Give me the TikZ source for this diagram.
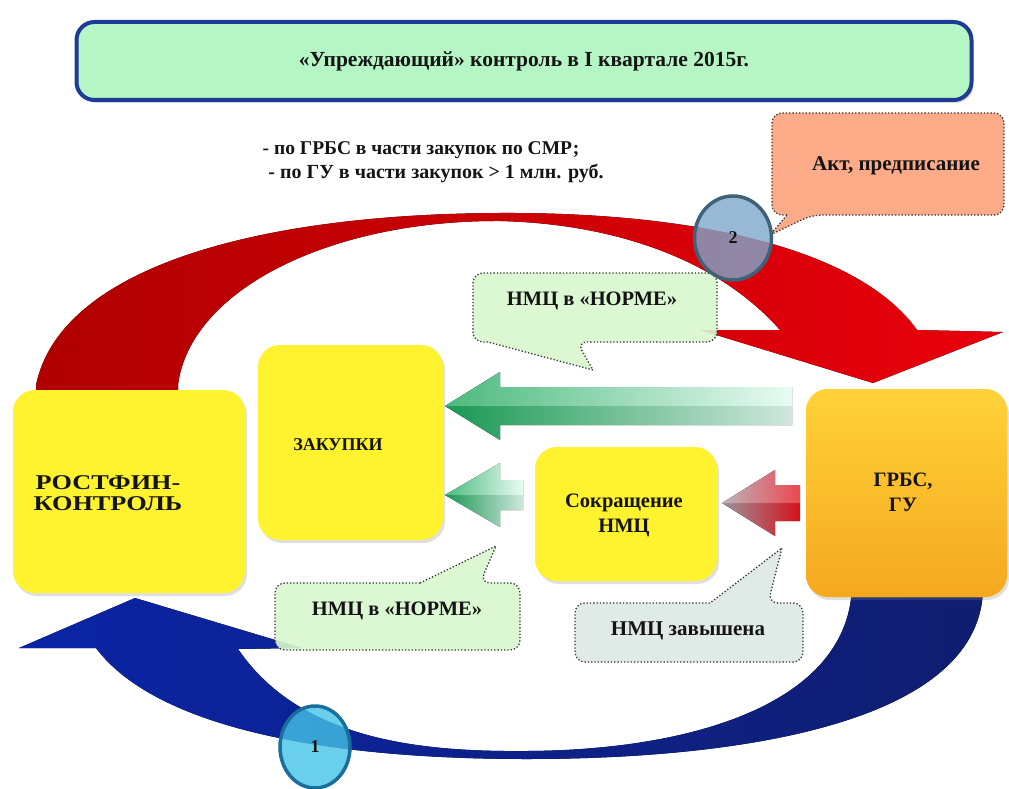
\documentclass[tikz,border=0pt]{standalone}
\usepackage{fontspec}
\setmainfont{Liberation Serif}
\newfontfamily\widefont[FakeStretch=1.25]{Liberation Serif}
\usetikzlibrary{shadows,shapes.geometric}
\definecolor{titlefill}{HTML}{B6F6C4}
\definecolor{titledraw}{HTML}{1E3C96}
\definecolor{boxyellow}{HTML}{FFF22E}
\definecolor{goldtop}{HTML}{FFD23A}
\definecolor{goldbot}{HTML}{F5A81E}
\definecolor{calgreen}{HTML}{D8F8CF}
\definecolor{calorange}{HTML}{FBA27A}
\definecolor{calgray}{HTML}{DDE8E5}
\definecolor{arcred}{HTML}{E8000C}
\definecolor{arcreddark}{HTML}{B00000}
\definecolor{arcblue}{HTML}{0B24A6}
\definecolor{arcbluedark}{HTML}{101E70}
\definecolor{txt}{HTML}{141414}
\definecolor{greendark}{HTML}{1BA65A}
\definecolor{greenlight}{HTML}{E2FBF0}
\definecolor{redgray}{HTML}{A8A0A8}
\definecolor{redbright}{HTML}{E8141E}
\definecolor{c2fill}{HTML}{7FA8CC}
\definecolor{c2draw}{HTML}{3E6379}
\definecolor{c1fill}{HTML}{45C3E6}
\definecolor{c1draw}{HTML}{1A6E9C}
% block arrow pointing left: tip x, centre y, head base x, head half-height, shaft half-height, tail x, fill options
\newcommand\blkarrow[7]{%
  \fill[#7] (#1,#2) -- (#3,#2-#4) -- (#3,#2-#5) -- (#6,#2-#5) -- (#6,#2+#5) -- (#3,#2+#5) -- (#3,#2+#4) -- cycle;
  \fill[white, opacity=0.22] (#1,#2) -- (#3,#2-#4) -- (#3,#2-#5) -- (#6,#2-#5) -- (#6,#2) -- cycle;
  \fill[black, opacity=0.08] (#1,#2) -- (#3,#2+#4) -- (#3,#2+#5) -- (#6,#2+#5) -- (#6,#2) -- cycle;}
\begin{document}
\begin{tikzpicture}[x=1pt,y=-1pt,
  every node/.style={text=txt},
  ybox/.style={fill=boxyellow, rounded corners=22, inner sep=0,
    drop shadow={opacity=0.25,shadow xshift=2pt,shadow yshift=-3pt}},
  callout/.style={draw=black!80, dotted, line width=1.3, fill opacity=0.9},
  lbl/.style={inner sep=0, align=center},
  numcirc/.style={ellipse, line width=3.5, fill opacity=0.8, text opacity=1,
    font=\bfseries\fontsize{18}{20}\selectfont},
]
\fill[white] (0,0) rectangle (1009,789);
\useasboundingbox (0,0) rectangle (1009,789);

% title
\node[draw=titledraw, line width=4, fill=titlefill, rounded corners=18,
  minimum width=895, minimum height=78, inner sep=0,
  drop shadow={opacity=0.3,shadow xshift=2pt,shadow yshift=-3pt},
  font=\bfseries\fontsize{21.5}{24}\selectfont] (title) at (524,61)
  {«Упреждающий» контроль в I квартале 2015г.};

% subtitle
\node[lbl, font=\bfseries\fontsize{19.5}{22}\selectfont] (sub1) at (421,150) {- по ГРБС в части закупок по СМР;};
\node[lbl, font=\bfseries\fontsize{20}{22}\selectfont] (sub2) at (436,173) {- по ГУ в части закупок > 1 млн. руб.};

% red arc
\fill[left color=arcreddark, right color=arcred]
  (36,392) -- (36,385) .. controls (60,270) and (250,214) .. (500,213)
  .. controls (700,212) and (860,250) .. (917,330) -- (1003,332) -- (873,383)
  -- (700,330) -- (780,330) .. controls (720,262) and (620,224) .. (500,221)
  .. controls (330,220) and (190,290) .. (178,385) -- (178,392) -- cycle;

% blue arc
\fill[left color=arcblue, right color=arcbluedark]
  (19,648) -- (135,598) -- (302,648) -- (238,649)
  .. controls (300,740) and (420,752) .. (527,751)
  .. controls (700,750) and (850,700) .. (852,585) -- (983,585)
  .. controls (985,720) and (750,759) .. (527,759)
  .. controls (300,759) and (150,720) .. (96,648) -- cycle;

% boxes
\node[ybox, minimum width=232, minimum height=203] (rost) at (129,491.5) {};
\node[ybox, minimum width=185, minimum height=195] (zak) at (350.5,442.5) {};
\node[ybox, minimum width=182, minimum height=134] (sokr) at (626,514) {};
\node[ybox, top color=goldtop, bottom color=goldbot, minimum width=201, minimum height=208] (grbs) at (906.5,493) {};

\node[lbl, font=\widefont\bfseries\fontsize{21}{21}\selectfont] (rostt) at (108,493) {РОСТФИН-\\КОНТРОЛЬ};
\node[lbl, font=\bfseries\fontsize{18}{20}\selectfont] (zakt) at (338,445) {ЗАКУПКИ};
\node[lbl, font=\bfseries\fontsize{20.5}{25}\selectfont] (sokrt) at (624,515) {Сокращение\\НМЦ};
\node[lbl, font=\bfseries\fontsize{20.5}{25}\selectfont] (grbst) at (903,492) {ГРБС,\\ГУ};

% block arrows
\blkarrow{445}{406}{500}{34}{19}{792}{left color=greendark, right color=greenlight}
\blkarrow{445}{495}{500}{32}{15}{523}{left color=greendark, right color=greenlight}
\blkarrow{722}{503}{775}{33}{18}{800}{left color=redgray, right color=redbright}

% callouts
\draw[callout, fill=calgreen] (488,342) [rounded corners=10] -- (473,342) -- (473,273)
  -- (717,273) -- (717,342) -- (577,342) [sharp corners] -- (593,370) -- cycle;
\node[lbl, font=\bfseries\fontsize{20.5}{23}\selectfont] (norm1) at (592,301) {НМЦ в «НОРМЕ»};

\draw[callout, fill=calorange] (787,215) [rounded corners=10] -- (772,215) -- (772,113)
  -- (1004,113) -- (1004,215) -- (812,215) [sharp corners] -- (770,235) -- cycle;
\node[lbl, font=\bfseries\fontsize{21}{24}\selectfont] (akt) at (896,166) {Акт, предписание};

\draw[callout, fill=calgray] (710,603) [rounded corners=10] -- (575,603) -- (575,662)
  -- (803,662) -- (803,603) -- (768,603) [sharp corners] -- (782,548) -- cycle;
\node[lbl, font=\bfseries\fontsize{21}{24}\selectfont] (zav) at (688,631) {НМЦ завышена};

\draw[callout, fill=calgreen] (420,583) [rounded corners=10] -- (275,583) -- (275,650)
  -- (520,650) -- (520,583) -- (480,583) [sharp corners] -- (496,546) -- cycle;
\node[lbl, font=\bfseries\fontsize{20.5}{23}\selectfont] (norm2) at (397,611) {НМЦ в «НОРМЕ»};

% numbered circles
\node[numcirc, draw=c2draw, fill=c2fill, minimum width=77, minimum height=84] (c2) at (733,238) {2};
\node[numcirc, draw=c1draw, fill=c1fill, minimum width=70, minimum height=82] (c1) at (315,747) {1};
\end{tikzpicture}
\end{document}
